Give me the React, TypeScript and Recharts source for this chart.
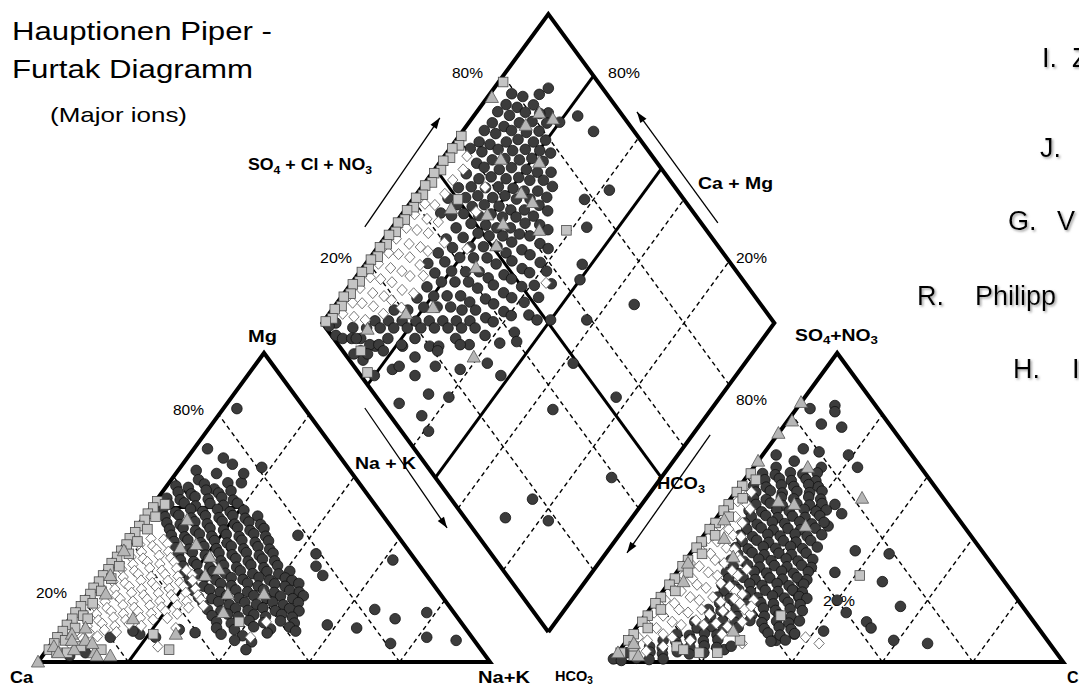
import React from "react"
import { ScatterChart, Scatter, XAxis, YAxis } from "recharts"

const W = 1079
const H = 687
// diagram units: a triangle side is 100 wide, a triangle is 100 high
const X_MIN = -8.41
const X_MAX = 230.3
const Y_MIN = -8.09
const Y_MAX = 214.24
const RIGHT_X0 = 126.8 // HCO3 corner of the anion triangle
const DIA_X = 112.9 // centre line of the diamond
const DIA_Y0 = 9.7 // lower vertex of the diamond

// cation triangle, [Na+K %, Mg %]
const cationDark = [
  [3, 82], [3, 69], [8, 66], [4, 62], [9, 61], [13, 58], [16, 58], [15, 61], [18, 63], [11, 64], [6, 59],
  [2, 57], [5, 56.5], [8, 57.6], [11, 56],
  [3.5, 55], [6.7, 54.4], [9.4, 55.6], [12.6, 54.7], [15, 55.4],
  [2, 53], [5.2, 52.5], [8, 53.5], [11.3, 52.7], [14, 53.3], [17, 52.4],
  [3.4, 51], [6.6, 51.5], [9.6, 50.5], [12.4, 51.3], [15.7, 50.7], [18.4, 51.4],
  [3, 49], [6.2, 48.5], [9, 49.5], [12.1, 48.7], [15, 49.4], [18.2, 48.6], [21, 49.1],
  [4.6, 47], [7.4, 47.5], [10.6, 46.6], [13.4, 47.3], [16.7, 46.7], [19.4, 47.4], [22.6, 46.5], [25, 47.2],
  [6, 45], [9.2, 44.5], [12, 45.4], [15.1, 44.7], [18, 45.5], [21.2, 44.6], [24, 45.3], [27, 44.5],
  [7.6, 43], [10.4, 43.4], [13.6, 42.5], [16.4, 43.3], [19.7, 42.7], [22.4, 43.5], [25.6, 42.6], [28.4, 43.2],
  [9, 41], [12.2, 40.5], [15, 41.4], [18.1, 40.7], [21, 41.3], [24.2, 40.6], [27, 41.5], [30, 40.7],
  [10.6, 39], [13.4, 39.5], [16.7, 38.6], [19.4, 39.3], [22.6, 38.5], [25.4, 39.4], [28.7, 38.7], [31.4, 39.2],
  [12, 37], [15.2, 36.5], [18, 37.4], [21.1, 36.7], [24, 37.5], [27.2, 36.6], [30, 37.3], [33, 36.5],
  [13.6, 35], [16.4, 35.5], [19.7, 34.6], [22.4, 35.3], [25.6, 34.7], [28.4, 35.4], [31.7, 34.5], [34.4, 35.2],
  [15, 33], [18.2, 32.5], [21, 33.4], [24.1, 32.7], [27, 33.5], [30.2, 32.6], [33, 33.3], [36, 32.7],
  [16.6, 31], [19.4, 31.5], [22.7, 30.6], [25.4, 31.3], [28.6, 30.7], [31.4, 31.4], [34.7, 30.5], [37.4, 31.2],
  [18, 29], [21.2, 28.5], [24, 29.4], [27.1, 28.7], [30, 29.5], [33.2, 28.6], [36, 29.3], [39, 28.5], [41, 29.4],
  [20, 27], [23.2, 27.5], [26, 26.6], [29.1, 27.3], [32, 26.7], [35.2, 27.4], [38, 26.5], [41.1, 27.2], [43, 26.4],
  [21.6, 25], [24.4, 24.5], [27.7, 25.4], [30.4, 24.7], [33.6, 25.5], [36.4, 24.6], [39.7, 25.3], [42.4, 24.5], [45, 25.4],
  [23, 23], [26.2, 23.5], [29, 22.6], [32.1, 23.3], [35, 22.7], [38.2, 23.4], [41, 22.5], [44.1, 23.2], [46.5, 22.6],
  [25, 21], [28.2, 20.5], [31, 21.4], [34.1, 20.7], [37, 21.5], [40.2, 20.6], [43, 21.3], [46.1, 20.5], [48, 21.4],
  [27, 19], [30.2, 19.5], [33, 18.6], [36.1, 19.3], [39, 18.7], [42.2, 19.4], [45, 18.5], [48, 19.2],
  [29, 17], [32.2, 16.5], [35, 17.4], [38.1, 16.7], [41, 17.5], [44.2, 16.6], [47, 17.3], [49.5, 16.5],
  [31, 15], [34.2, 15.5], [37, 14.6], [40.1, 15.3], [43, 14.7], [46.2, 15.4], [49, 14.5],
  [33, 13], [36.5, 12.5], [40, 13.4], [43.6, 12.7], [47, 13.3], [50.4, 12.6],
  [34, 11], [38.2, 10.5], [42, 11.4], [46.1, 10.7], [50, 11.3],
  [36, 9], [41, 8.5], [46, 9.4], [30, 9.5], [26, 10.5],
  [40, 7], [44, 6.5], [22, 8], [18, 9], [44, 4], [16, 10], [12, 8], [9, 3], [6, 2],
  [62, 33], [66, 17], [72, 14], [78, 16], [58, 12], [65, 11], [75, 6], [82, 8], [89, 7], [52, 10],
  [44, 35], [46, 31], [49, 28], [37, 41],
]
const cationWhite = [
  [5, 40], [8, 39.6],
  [3.5, 38], [6.6, 37.5], [9.5, 38.3],
  [2, 36], [5.1, 35.6], [8, 36.4], [11, 35.7],
  [3.6, 34], [6.5, 33.5], [9.6, 34.4], [12.5, 33.7],
  [2, 32], [5.2, 31.6], [8, 32.4], [11.1, 31.7], [14, 32.3],
  [3.5, 30], [6.6, 29.5], [9.5, 30.4], [12.6, 29.6], [15.5, 30.3], [18, 29.7],
  [2, 28], [5.1, 27.5], [8, 28.4], [11.2, 27.6], [14, 28.3], [17.1, 27.7], [20, 28.2],
  [3.6, 26], [6.5, 25.5], [9.6, 26.4], [12.5, 25.6], [15.6, 26.3], [18.5, 25.7], [21, 26.4],
  [2, 24], [5.2, 23.6], [8, 24.4], [11.1, 23.6], [14, 24.3], [17.2, 23.7], [20, 24.4], [23, 23.7],
  [3.5, 22], [6.6, 21.5], [9.5, 22.4], [12.6, 21.6], [15.5, 22.3], [18.6, 21.7], [21.5, 22.4], [24.6, 21.6],
  [2, 20], [5.1, 19.5], [8, 20.4], [11.2, 19.6], [14, 20.3], [17.1, 19.7], [20, 20.4], [23.1, 19.6], [26, 20.2],
  [3.6, 18], [6.5, 17.5], [9.6, 18.4], [12.5, 17.6], [15.6, 18.3], [18.5, 17.7], [21.6, 18.4], [24.5, 17.6], [27.5, 18.2],
  [2, 16], [5.2, 15.5], [8, 16.4], [11.1, 15.6], [14, 16.3], [17.2, 15.7], [20, 16.4], [23, 15.6],
  [3.5, 14], [6.6, 13.5], [9.5, 14.4], [12.6, 13.6], [15.5, 14.3], [18.6, 13.7], [21.5, 14.2],
  [2, 12], [5.1, 11.6], [8, 12.4], [11.2, 11.6], [14, 12.3], [17, 11.7],
  [3.5, 10], [6.6, 9.5], [9.5, 10.4], [12.5, 9.7],
  [3, 8], [6.2, 7.5], [9, 8.3], [4, 6], [7, 5.6],
  [25, 11], [43, 8], [44, 13], [24, 5],
]
const cationSquare = [
  [0.4, 52], [2.6, 51], [0.5, 50], [0.3, 48], [2.5, 47], [0.6, 46], [0.4, 44], [2.7, 43], [0.5, 42],
  [0.3, 40], [2.5, 39], [0.6, 38], [0.4, 36], [2.6, 35], [0.5, 34], [0.3, 32], [2.5, 31], [0.6, 30],
  [0.4, 28], [2.7, 27], [0.5, 26], [0.3, 24], [2.5, 23], [0.6, 22], [0.4, 20], [2.6, 19], [0.5, 18],
  [0.3, 16], [2.5, 15], [0.6, 14], [0.4, 12], [2.7, 11], [0.5, 10], [0.3, 8], [2.5, 7], [0.6, 6],
  [0.4, 4], [2.6, 3], [5, 3], [7, 5], [38, 13], [21, 9], [27, 4], [12, 4], [4, 14],
]
const cationTriangle = [
  [10, 46], [13, 37], [16, 38], [21, 34], [25, 30], [23, 28], [31, 22], [39, 22], [33, 16],
  [26, 9], [1, 36], [14, 14], [5, 11], [3, 9], [7, 7], [11, 3], [0, 0], [4, 22], [2, 28],
  [1, 5], [3, 3], [6, 4], [9, 6], [12, 2], [4, 7], [15, 2],
]

// diamond, [SO4+Cl+NO3 %, Ca+Mg %]
const diamondDark = [
  [88, 88], [90, 77], [91, 71], [85, 80], [84, 84],
  [1, 95], [3, 97], [1, 98], [2, 93], [4, 91],
  [61, 95.5], [64, 94.6], [67, 95.3], [70, 94.8], [73, 95.4], [76, 94.7], [79, 95.2],
  [6, 92.5], [44, 91.6], [48, 92.4], [52, 91.8], [56, 92.3], [60, 91.7], [63, 92.4], [66, 91.8],
  [69, 92.3], [72, 91.6], [75, 92.2], [78, 91.8], [81, 92.3],
  [6, 89], [9, 89.4], [12, 88.7], [46, 88.8], [49, 89.3], [52, 88.6], [55, 89.1], [58, 88.7],
  [61, 89.4], [64, 88.8], [67, 89.2], [70, 88.6], [73, 89.3], [76, 88.8], [79, 89.2], [82, 88.6], [85, 89],
  [8, 84.5], [12, 86.4], [15, 85.7], [18, 86.2], [33, 86.3], [37, 85.7], [41, 86.2], [45, 85.8],
  [49, 86.4], [52, 85.7], [55, 86.2], [58, 85.8], [61, 86.3], [64, 85.7], [67, 86.2], [70, 85.8],
  [73, 86.4], [76, 85.7], [79, 86.2], [82, 85.8],
  [12, 83], [15, 83.4], [18, 82.7], [21, 83.2], [25, 83.1], [29, 82.7], [33, 83.2], [37, 82.8],
  [41, 83.4], [45, 82.7], [49, 83.2], [52, 82.8], [55, 83.3], [58, 82.6], [61, 83.1], [64, 82.7],
  [67, 83.3], [70, 82.8], [73, 83.2], [76, 82.6], [79, 83.1], [82, 82.7],
  [14, 78.5], [18, 80.4], [21, 79.6], [25, 80.1], [29, 79.7], [33, 80.3], [37, 79.8], [41, 80.2],
  [45, 79.6], [49, 80.1], [52, 79.7], [55, 80.3], [58, 79.8], [61, 80.2], [64, 79.6], [67, 80.1],
  [70, 79.7], [73, 80.3], [76, 79.8], [79, 80.2],
  [18, 77], [21, 77.4], [24, 76.7], [28, 77.2], [32, 76.8], [36, 77.3], [40, 76.6], [44, 77.1],
  [48, 76.7], [51, 77.2], [54, 76.8], [57, 77.3], [60, 76.6], [63, 77.1], [66, 76.7], [69, 77.2],
  [72, 76.8], [75, 77.3], [78, 77],
  [20, 72.5], [24, 74.4], [27, 73.7], [31, 74.2], [35, 73.8], [39, 74.3], [43, 73.6], [47, 74.1],
  [51, 73.7], [54, 74.2], [57, 73.8], [60, 74.3], [63, 73.6], [66, 74.1], [69, 73.7], [72, 74.2], [75, 73.8],
  [22, 70.5], [27, 71.4], [30, 70.7], [33, 71.2], [36, 70.8], [40, 71.3], [44, 70.6], [48, 71.1],
  [52, 70.7], [55, 71.2], [58, 70.8], [61, 71.3], [64, 70.6], [67, 71.1], [70, 70.7], [73, 71.2],
  [27, 68], [30, 68.4], [33, 67.7], [36, 68.2], [40, 67.8], [44, 68.3], [48, 67.6], [52, 68.1],
  [56, 67.7], [60, 68.2], [64, 67.8], [68, 68.3],
  [29, 64], [33, 65.4], [37, 64.7], [41, 65.2], [45, 64.8], [49, 65.3], [53, 64.6], [57, 65.1], [61, 64.7], [65, 65.2],
  [34, 62], [38, 62.4], [42, 61.7], [46, 62.2], [50, 61.8], [54, 62.3], [58, 61.6], [62, 62.1],
  [36, 57.5], [43, 59.4], [48, 58.7], [53, 59.2], [58, 58.8],
  [41, 56], [47, 55.6], [52, 56.3], [57, 55.7],
  [4, 87], [2, 88], [5, 90], [3, 85], [7, 86], [9, 84], [3, 80], [5, 85], [9, 82], [14, 79], [8, 77],
  [10, 76], [15, 74], [12, 71], [4, 70], [18, 68], [21, 70], [7, 63], [6, 59], [12, 65], [16, 60],
  [27, 66], [23, 62], [30, 57], [31, 52], [40, 54],
  [72, 34], [59, 42], [49, 38], [53, 23], [37, 35], [39, 11], [18, 25], [9, 28], [18, 18],
  [78, 62], [85, 58], [74, 57], [67, 52], [64, 50], [51, 50], [48, 53],
]
const diamondWhite = [
  [6, 97], [10, 96.6], [14, 97.3], [18, 96.8], [22, 97.2], [26, 96.7], [30, 97.3], [34, 96.8], [38, 97.2], [42, 96.6],
  [8, 94], [12, 94.4], [16, 93.7], [20, 94.2], [24, 93.8], [28, 94.3], [32, 93.6], [36, 94.1], [40, 93.7],
  [44, 94.2], [48, 93.8], [52, 94.3], [56, 93.7], [59, 95],
  [10, 91], [14, 91.4], [18, 90.7], [22, 91.2], [26, 90.8], [30, 91.3], [34, 90.6], [38, 91.1], [42, 90.7],
  [15, 88], [19, 88.4], [23, 87.7], [27, 88.2], [31, 87.8], [35, 88.3],
  [20, 85], [25, 84.6], [30, 85.3], [44, 80], [52, 84], [58, 86], [56, 57], [40, 86],
]
const diamondSquare = [
  [79, 99], [61, 99.5], [59, 98.5], [57, 99.5], [55, 98.5], [53, 99.5], [51, 98.5], [49, 99.5], [47, 98.5],
  [45, 99.5], [43, 98.5], [41, 99.5], [39, 98.5], [37, 99.5], [35, 98.5], [33, 99.5], [31, 98.5], [29, 99.5],
  [27, 98.5], [25, 99.5], [23, 98.5], [21, 99.5], [19, 98.5], [17, 99.5], [15, 98.5], [13, 99.5], [11, 98.5],
  [9, 99.5], [7, 98.5], [5, 99.5], [3, 98.5], [1, 99.5], [69, 61], [50, 90], [4, 87], [2, 82],
]
const diamondTriangle = [
  [74, 99], [82, 86], [84, 82], [77, 87], [74, 78], [66, 87], [65, 77], [66, 73], [47, 90],
  [54, 81], [56, 76], [63, 67], [51, 74], [20, 83], [9, 89], [27, 78], [43, 75], [28, 61],
]

// anion triangle, [Cl %, SO4+NO3 %]
const anionDark = [
  [8, 83], [9, 81], [3, 82], [8, 77], [13, 76], [8, 69], [3, 67], [8, 65], [12, 68], [15, 63], [19, 67], [23, 63], [5, 63],
  [24, 51], [27, 48], [26, 44], [36, 36], [44, 35], [47, 26], [35, 29], [55, 18], [50, 13], [52, 11], [59, 7],
  [67, 6], [44, 16], [29, 23], [32, 20], [36, 9], [33, 7], [23, 4], [40, 20], [42, 10], [29, 26], [31, 21],
  [3, 61], [6, 60.6], [9, 61.3], [12, 60.8], [15, 61.2],
  [4.5, 59], [7.5, 59.4], [10.5, 58.7], [13.5, 59.2], [16, 58.6],
  [3, 57], [6, 56.6], [9, 57.3], [12, 56.8], [15, 57.4], [17.5, 56.7],
  [4.5, 55], [7.5, 55.4], [10.5, 54.7], [13.5, 55.2], [16.5, 54.8], [19, 55.3],
  [5, 53], [8, 52.6], [11, 53.3], [14, 52.8], [17, 53.4], [20, 52.7],
  [6.5, 51], [9.5, 51.4], [12.5, 50.7], [15.5, 51.2], [18.5, 50.8], [21, 51.3],
  [6, 49], [9, 48.6], [12, 49.3], [15, 48.8], [18, 49.4], [21, 48.7], [23, 49.2],
  [7.5, 47], [10.5, 47.4], [13.5, 46.7], [16.5, 47.2], [19.5, 46.8], [22.5, 47.3],
  [7, 45], [10, 44.6], [13, 45.3], [16, 44.8], [19, 45.4], [22, 44.7], [24.5, 45.2],
  [8.5, 43], [11.5, 43.4], [14.5, 42.7], [17.5, 43.2], [20.5, 42.8], [23.5, 43.3],
  [8, 41], [11, 40.6], [14, 41.3], [17, 40.8], [20, 41.4], [23, 40.7], [26, 41.2],
  [9.5, 39], [12.5, 39.4], [15.5, 38.7], [18.5, 39.2], [21.5, 38.8], [24.5, 39.3],
  [9, 37], [12, 36.6], [15, 37.3], [18, 36.8], [21, 37.4], [24, 36.7], [27, 37.2],
  [10.5, 35], [13.5, 35.4], [16.5, 34.7], [19.5, 35.2], [22.5, 34.8], [25.5, 35.3],
  [10, 33], [13, 32.6], [16, 33.3], [19, 32.8], [22, 33.4], [25, 32.7], [28, 33.2],
  [11.5, 31], [14.5, 31.4], [17.5, 30.7], [20.5, 31.2], [23.5, 30.8], [26.5, 31.3], [29, 30.6],
  [11, 29], [14, 28.6], [17, 29.3], [20, 28.8], [23, 29.4], [26, 28.7], [29, 29.2],
  [12.5, 27], [15.5, 27.4], [18.5, 26.7], [21.5, 27.2], [24.5, 26.8], [27.5, 27.3], [30, 26.6],
  [12, 25], [15, 24.6], [18, 25.3], [21, 24.8], [24, 25.4], [27, 24.7], [30, 25.2],
  [13.5, 23], [16.5, 23.4], [19.5, 22.7], [22.5, 23.2], [25.5, 22.8], [28.5, 23.3], [31, 22.6],
  [13, 21], [16, 20.6], [19, 21.3], [22, 20.8], [25, 21.4], [28, 20.7], [31, 21.2], [33, 20.6],
  [14.5, 19], [17.5, 19.4], [20.5, 18.7], [23.5, 19.2], [26.5, 18.8], [29.5, 19.3], [32.5, 18.6],
  [13, 17], [16, 16.6], [19, 17.3], [22, 16.8], [25, 17.4], [28, 16.7], [31, 17.2], [34, 16.6],
  [14.5, 15], [17.5, 15.4], [20.5, 14.7], [23.5, 15.2], [26.5, 14.8], [29.5, 15.3], [32.5, 14.6],
  [12, 13], [15, 12.6], [18, 13.3], [21, 12.8], [24, 13.4], [27, 12.7], [30, 13.2], [33, 12.6], [35, 13.3],
  [13.5, 11], [16.5, 11.4], [19.5, 10.7], [22.5, 11.2], [28.5, 10.8], [31.5, 11.3], [34.5, 10.6],
  [10, 9], [13, 8.6], [16, 9.3], [19, 8.8], [30, 9.4], [33, 8.7], [36, 9.2],
  [8, 7], [11, 6.6], [14, 7.3], [17, 6.8], [20, 7.2], [32, 6.7], [35, 7.1],
  [6, 5], [9, 4.6], [12, 5.3], [15, 4.8], [18, 5.2], [21, 4.7], [24, 5.1],
  [2, 3], [4, 2.5], [7, 3.2], [10, 2.7], [13, 3.3], [16, 2.6], [19, 3],
  [0, 1], [2, 0.5], [5, 1.2], [8, 0.8], [11, 1],
]
const anionWhite = [
  [1, 56], [3.5, 55], [2, 52], [4.5, 51], [1.5, 48], [4, 47], [6, 49.5], [2, 44], [4.5, 43], [6.5, 45],
  [1.5, 40], [4, 39], [6.5, 41], [8.5, 40.5], [2, 36], [4.5, 35], [7, 37], [9, 36.5],
  [1.5, 32], [4, 31], [6.5, 33], [9, 32], [11, 34],
  [2, 28], [4.5, 27], [7, 29], [9.5, 28], [12, 29.5], [14, 28],
  [1.5, 24], [4, 23], [6.5, 25], [9, 24], [11.5, 25.5], [14, 24.5], [16, 23],
  [2, 20], [4.5, 19], [7, 21], [9.5, 20], [12, 21], [14.5, 19.5], [17, 20.5], [19, 19], [21.5, 20],
  [1.5, 16], [4, 15], [6.5, 17], [9, 16], [11.5, 17], [14, 15.5], [16.5, 16.5], [19, 15], [21, 17], [23, 15.5],
  [2, 12], [4.5, 11], [7, 13], [9.5, 12], [12, 13.5], [14.5, 12], [17, 12.5], [20, 11.5], [22.5, 13],
  [2, 8], [4.5, 7], [7, 9], [9.5, 8], [12, 5], [14, 7], [3, 4], [6, 3.5], [9, 5],
  [12, 33], [15, 30], [18, 22], [22, 18], [20, 9], [26, 6], [39, 8], [43, 6],
]
const anionSquare = [
  [0.4, 61], [2.5, 59], [0.5, 57], [0.3, 55], [2.6, 53], [0.5, 51], [0.4, 49], [2.5, 47], [0.6, 45],
  [0.3, 43], [2.5, 41], [0.5, 39], [0.4, 37], [2.6, 35], [0.5, 33], [0.3, 31], [2.5, 29], [0.6, 27],
  [0.4, 25], [2.7, 23], [0.5, 21], [0.3, 19], [2.5, 17], [0.6, 15], [0.4, 13], [2.6, 11], [0.5, 9],
  [0.3, 7], [2.5, 5], [0.6, 3], [4, 2], [41, 28], [30, 15], [25, 7], [12, 5], [14, 4], [18, 3], [22, 3],
]
const anionTriangle = [
  [0, 84], [1, 78], [0, 74], [0, 65], [12, 63], [11, 52], [15, 51], [29, 53], [21, 44],
  [10, 34], [5, 40], [22, 10], [0, 3], [2, 46], [1, 32], [3, 26], [2, 6], [5, 2],
]

const gridSteps = [20, 40, 60, 80]
// direction arrows beside the diamond, [x, y] in diagram units
const arrowTails = [[72.3, 140.8], [150.4, 142.1], [72.3, 82.2], [148.7, 73.5]]
const arrowTips = [[88.9, 176.1], [132.5, 178.0], [90.5, 43.4], [130.3, 35.3]]

type Pt = { x: number; y: number; head?: boolean; angle?: number }
const fromCation = ([nak, mg]: number[]): Pt => ({ x: nak + mg / 2, y: mg })
const fromAnion = ([cl, so4]: number[]): Pt => ({ x: RIGHT_X0 + cl + so4 / 2, y: so4 })
const fromDiamond = ([s, c]: number[]): Pt => ({ x: DIA_X + (s - c) / 2, y: DIA_Y0 + s + c })

type Seg = { pts: Pt[]; width: number; dash?: string }
const DASH = "4.5 3.5"
const THIN = 1.4
const segments: Seg[] = []
for (const v of gridSteps) {
  // cation
  if (v === 20) {
    segments.push({ pts: [fromCation([20, 50]), fromCation([20, 80])], width: THIN, dash: DASH })
  } else {
    segments.push({ pts: [fromCation([v, 0]), fromCation([v, 100 - v])], width: THIN, dash: DASH })
  }
  segments.push({ pts: [fromCation([100 - v, 0]), fromCation([0, 100 - v])], width: THIN, dash: DASH })
  // anion
  segments.push({ pts: [fromAnion([v, 0]), fromAnion([v, 100 - v])], width: THIN, dash: DASH })
  segments.push({ pts: [fromAnion([100 - v, 0]), fromAnion([0, 100 - v])], width: THIN, dash: DASH })
  // diamond
  segments.push({ pts: [fromDiamond([v, 0]), fromDiamond([v, 100])], width: THIN, dash: DASH })
  if (v !== 80) segments.push({ pts: [fromDiamond([0, v]), fromDiamond([100, v])], width: THIN, dash: DASH })
}
// Furtak field boundaries
segments.push({ pts: [fromCation([20, 0]), fromCation([20, 50])], width: 3 })
segments.push({ pts: [fromCation([0, 50]), fromCation([20, 50])], width: 3 })
segments.push({ pts: [fromDiamond([50, 0]), fromDiamond([50, 100])], width: 3 })
segments.push({ pts: [fromDiamond([0, 50]), fromDiamond([100, 50])], width: 3 })
segments.push({ pts: [fromDiamond([0, 80]), fromDiamond([100, 80])], width: 3 })
// outlines
segments.push({ pts: [fromCation([0, 0]), fromCation([100, 0]), fromCation([0, 100]), fromCation([0, 0])], width: 4 })
segments.push({ pts: [fromAnion([0, 0]), fromAnion([100, 0]), fromAnion([0, 100]), fromAnion([0, 0])], width: 4 })
segments.push({
  pts: [fromDiamond([0, 0]), fromDiamond([100, 0]), fromDiamond([100, 100]), fromDiamond([0, 100]), fromDiamond([0, 0])],
  width: 4,
})

const pxPerX = W / (X_MAX - X_MIN)
const pxPerY = H / (Y_MAX - Y_MIN)
const arrows = arrowTails.map((t, i) => {
  const tip = arrowTips[i]
  const angle = Math.atan2(-(tip[1] - t[1]) * pxPerY, (tip[0] - t[0]) * pxPerX)
  return [{ x: t[0], y: t[1] }, { x: tip[0], y: tip[1], head: true, angle }] as Pt[]
})

const NoMark = () => <g />
const DarkDot = (p: any) => <circle cx={p.cx} cy={p.cy} r={5.3} fill="#3c3c3c" stroke="#111" strokeWidth={0.8} />
const GraySquare = (p: any) => (
  <rect x={p.cx - 4.8} y={p.cy - 4.8} width={9.6} height={9.6} fill="#c4c4c4" stroke="#4a4a4a" strokeWidth={0.8} />
)
const GrayTriangle = (p: any) => (
  <polygon
    points={`${p.cx},${p.cy - 6.8} ${p.cx + 6.6},${p.cy + 5} ${p.cx - 6.6},${p.cy + 5}`}
    fill="#b6b6b6"
    stroke="#555"
    strokeWidth={0.8}
  />
)
const WhiteDiamond = (p: any) => (
  <polygon
    points={`${p.cx},${p.cy - 5.6} ${p.cx + 5.2},${p.cy} ${p.cx},${p.cy + 5.6} ${p.cx - 5.2},${p.cy}`}
    fill="#fff"
    stroke="#666"
    strokeWidth={0.9}
  />
)
const ArrowHead = (p: any) => {
  const d = p.payload ?? p
  if (!d.head) return <g />
  const a = d.angle as number
  const ux = Math.cos(a)
  const uy = Math.sin(a)
  const L = 11
  const w = 3.8
  const bx = p.cx - L * ux
  const by = p.cy - L * uy
  return (
    <polygon
      points={`${p.cx},${p.cy} ${bx - w * uy},${by + w * ux} ${bx + w * uy},${by - w * ux}`}
      fill="#000"
    />
  )
}

const FONT = "'Liberation Sans', Arial, Helvetica, sans-serif"

export default function App() {
  const series: { name: string; pts: Pt[]; shape: any }[] = [
    { name: "cd", pts: cationDark.map(fromCation), shape: DarkDot },
    { name: "dd", pts: diamondDark.map(fromDiamond), shape: DarkDot },
    { name: "ad", pts: anionDark.map(fromAnion), shape: DarkDot },
    { name: "cw", pts: cationWhite.map(fromCation), shape: WhiteDiamond },
    { name: "dw", pts: diamondWhite.map(fromDiamond), shape: WhiteDiamond },
    { name: "aw", pts: anionWhite.map(fromAnion), shape: WhiteDiamond },
    { name: "cs", pts: cationSquare.map(fromCation), shape: GraySquare },
    { name: "ds", pts: diamondSquare.map(fromDiamond), shape: GraySquare },
    { name: "as", pts: anionSquare.map(fromAnion), shape: GraySquare },
    { name: "ct", pts: cationTriangle.map(fromCation), shape: GrayTriangle },
    { name: "dt", pts: diamondTriangle.map(fromDiamond), shape: GrayTriangle },
    { name: "at", pts: anionTriangle.map(fromAnion), shape: GrayTriangle },
  ]

  const bold = { fontFamily: FONT, fontWeight: 700, fontSize: 16 }
  const pct = { fontFamily: FONT, fontSize: 14 }
  const name = { fontFamily: FONT, fontSize: 27, filter: "url(#shadow)" }

  return (
    <div style={{ position: "absolute", left: 0, top: 0, width: W, height: H, overflow: "hidden", background: "#fff" }}>
      <svg width={W} height={H} style={{ position: "absolute", left: 0, top: 0 }}>
        <defs>
          <filter id="shadow" x="-10%" y="-10%" width="130%" height="140%">
            <feDropShadow dx={1.5} dy={1.5} stdDeviation={0.9} floodColor="#888" floodOpacity={0.8} />
          </filter>
        </defs>
        <text x={12} y={40} fontFamily={FONT} fontSize={26} textLength={260} lengthAdjust="spacingAndGlyphs">
          Hauptionen Piper -
        </text>
        <text x={12} y={78} fontFamily={FONT} fontSize={26} textLength={241} lengthAdjust="spacingAndGlyphs">
          Furtak Diagramm
        </text>
        <text x={50} y={122} fontFamily={FONT} fontSize={21} textLength={137} lengthAdjust="spacingAndGlyphs">
          (Major ions)
        </text>

        <text x={248} y={170} style={bold} textLength={124} lengthAdjust="spacingAndGlyphs">
          SO<tspan fontSize={11} dy={4}>4</tspan>
          <tspan dy={-4}> + Cl + NO</tspan>
          <tspan fontSize={11} dy={4}>3</tspan>
        </text>
        <text x={698} y={189} style={bold} textLength={75} lengthAdjust="spacingAndGlyphs">
          Ca + Mg
        </text>
        <text x={355} y={469} style={bold} textLength={61} lengthAdjust="spacingAndGlyphs">
          Na + K
        </text>
        <text x={657} y={489} style={bold} textLength={48} lengthAdjust="spacingAndGlyphs">
          HCO<tspan fontSize={11} dy={4}>3</tspan>
        </text>
        <text x={248} y={342} style={bold} textLength={29} lengthAdjust="spacingAndGlyphs">
          Mg
        </text>
        <text x={10} y={683} style={bold} textLength={23} lengthAdjust="spacingAndGlyphs">
          Ca
        </text>
        <text x={478} y={683} style={bold} textLength={52} lengthAdjust="spacingAndGlyphs">
          Na+K
        </text>
        <text x={555} y={681} style={{ ...bold, fontSize: 14.5 }}>
          HCO<tspan fontSize={10} dy={3}>3</tspan>
        </text>
        <text x={1067} y={683} style={bold}>
          Cl
        </text>
        <text x={795} y={341} style={bold} textLength={83} lengthAdjust="spacingAndGlyphs">
          SO<tspan fontSize={11} dy={3}>4</tspan>
          <tspan dy={-3}>+NO</tspan>
          <tspan fontSize={11} dy={3}>3</tspan>
        </text>

        <text x={173} y={415} style={pct} textLength={31} lengthAdjust="spacingAndGlyphs">80%</text>
        <text x={36} y={598} style={pct} textLength={31} lengthAdjust="spacingAndGlyphs">20%</text>
        <text x={452} y={78} style={pct} textLength={31} lengthAdjust="spacingAndGlyphs">80%</text>
        <text x={608} y={78} style={pct} textLength={32} lengthAdjust="spacingAndGlyphs">80%</text>
        <text x={320} y={263} style={pct} textLength={32} lengthAdjust="spacingAndGlyphs">20%</text>
        <text x={736} y={263} style={pct} textLength={31} lengthAdjust="spacingAndGlyphs">20%</text>
        <text x={736} y={405} style={pct} textLength={31} lengthAdjust="spacingAndGlyphs">80%</text>
        <text x={823} y={606} style={pct} textLength={32} lengthAdjust="spacingAndGlyphs">20%</text>

        <text x={1042} y={67} style={name}>I.</text>
        <text x={1072} y={67} style={name}>Z</text>
        <text x={1040} y={157} style={name}>J.</text>
        <text x={1008} y={230} style={name}>G.</text>
        <text x={1057} y={230} style={name}>V</text>
        <text x={917} y={305} style={name}>R.</text>
        <text x={975} y={305} style={name}>Philipp</text>
        <text x={1013} y={378} style={name}>H.</text>
        <text x={1072} y={378} style={name}>I</text>
      </svg>

      <div style={{ position: "absolute", left: 0, top: 0 }}>
        <ScatterChart width={W} height={H} margin={{ top: 0, right: 0, bottom: 0, left: 0 }}>
          <XAxis type="number" dataKey="x" domain={[X_MIN, X_MAX]} hide allowDataOverflow />
          <YAxis type="number" dataKey="y" domain={[Y_MIN, Y_MAX]} hide allowDataOverflow />
          {segments.map((s, i) => (
            <Scatter
              key={`seg${i}`}
              data={s.pts}
              line={{ stroke: "#000", strokeWidth: s.width, strokeDasharray: s.dash, strokeLinejoin: "miter" }}
              shape={NoMark}
              isAnimationActive={false}
            />
          ))}
          {arrows.map((a, i) => (
            <Scatter
              key={`arr${i}`}
              data={a}
              line={{ stroke: "#000", strokeWidth: 1.3 }}
              shape={ArrowHead}
              isAnimationActive={false}
            />
          ))}
          {series.map((s) => (
            <Scatter key={s.name} data={s.pts} shape={s.shape} isAnimationActive={false} />
          ))}
        </ScatterChart>
      </div>
    </div>
  )
}
